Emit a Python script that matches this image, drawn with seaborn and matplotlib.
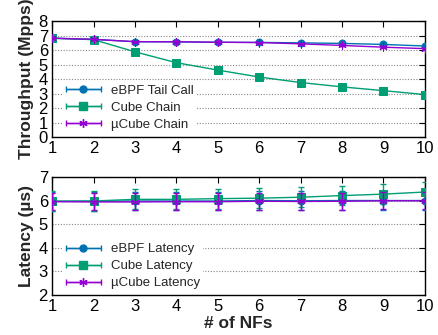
import numpy as np
import pandas as pd
import seaborn as sns
import matplotlib
matplotlib.use("Agg")
import matplotlib.pyplot as plt
from matplotlib.container import ErrorbarContainer
from matplotlib.legend_handler import HandlerErrorbar

nfs = [1, 2, 3, 4, 5, 6, 7, 8, 9, 10]
tp_ebpf = [6.82, 6.74, 6.58, 6.57, 6.54, 6.53, 6.50, 6.46, 6.39, 6.28]
tp_cube = [6.82, 6.72, 5.88, 5.13, 4.62, 4.14, 3.76, 3.46, 3.20, 2.93]
tp_ucube = [6.82, 6.74, 6.58, 6.57, 6.54, 6.52, 6.43, 6.32, 6.20, 6.10]
tp_err = [0.05, 0.05, 0.05, 0.05, 0.05, 0.05, 0.05, 0.05, 0.05, 0.05]

lat_ebpf = [5.97, 5.97, 5.98, 5.98, 5.98, 6.00, 5.99, 6.00, 6.00, 6.00]
lat_cube = [5.97, 5.98, 6.05, 6.05, 6.08, 6.10, 6.14, 6.21, 6.27, 6.36]
lat_ucube = [5.95, 5.94, 5.94, 5.95, 5.95, 5.97, 5.96, 5.97, 5.99, 5.99]
lat_err_ebpf = [0.40, 0.40, 0.40, 0.40, 0.40, 0.40, 0.40, 0.40, 0.40, 0.40]
lat_err_cube = [0.42, 0.42, 0.42, 0.42, 0.42, 0.42, 0.42, 0.42, 0.42, 0.42]
lat_err_ucube = [0.36, 0.36, 0.36, 0.36, 0.36, 0.36, 0.36, 0.36, 0.36, 0.36]

top_labels = ["eBPF Tail Call", "Cube Chain", "\u00b5Cube Chain"]
bot_labels = ["eBPF Latency", "Cube Latency", "\u00b5Cube Latency"]
colors = ["#0072b2", "#009e73", "#9400d3"]
markers = ["o", "s", (6, 2, 0)]
msizes = [5, 6, 6]

sns.set_theme(style="white")
plt.rcParams['font.family'] = ['Liberation Sans', 'DejaVu Sans']
plt.rcParams['xtick.direction'] = 'in'
plt.rcParams['ytick.direction'] = 'in'

fig = plt.figure(figsize=(4.38, 3.35), dpi=100)
ax1 = fig.add_axes([0.119, 0.591, 0.851, 0.346])
ax2 = fig.add_axes([0.119, 0.119, 0.851, 0.353])


def draw(ax, series, errs, labels, ylim, yticks, ylabel):
    handles = []
    for vals, err, lab, c, m, ms in zip(series, errs, labels, colors, markers, msizes):
        df = pd.DataFrame({"x": nfs, "y": vals})
        sns.lineplot(data=df, x="x", y="y", ax=ax, color=c, marker=m,
                     markersize=ms, markeredgecolor=c, linewidth=1.0,
                     zorder=3, legend=False)
        ax.errorbar(nfs, vals, yerr=err, fmt="none", ecolor=c, elinewidth=1.0,
                    capsize=2.5, capthick=1.0, zorder=3)
        h = ax.errorbar([np.nan], [np.nan], xerr=[1], color=c, marker=m,
                        markersize=ms, markeredgecolor=c, linewidth=1.0,
                        elinewidth=1.0, capsize=2.5, label=lab)
        handles.append(h)
    ax.set_xlim(1, 10)
    ax.set_ylim(*ylim)
    ax.set_yticks(yticks)
    ax.set_xticks(nfs)
    ax.tick_params(axis="both", which="both", top=True, right=True, length=4,
                   width=0.8, labelsize=12, pad=3, colors="black")
    ax.yaxis.grid(True, linestyle=(0, (1, 1.5)), color="#888888", linewidth=0.8)
    ax.set_axisbelow(True)
    for s in ax.spines.values():
        s.set_color("black")
        s.set_linewidth(1.0)
        s.set_visible(True)
    ax.set_ylabel(ylabel, fontsize=12.5, fontweight="bold", labelpad=3)
    ax.set_xlabel("")
    leg = ax.legend(handles=handles, loc="lower left", bbox_to_anchor=(0.02, 0.0),
                    fontsize=9.5, frameon=True, framealpha=1.0, edgecolor="none",
                    facecolor="white", handlelength=2.7, handletextpad=0.75,
                    labelspacing=0.36, borderpad=0.25, borderaxespad=0.2,
                    handler_map={ErrorbarContainer: HandlerErrorbar(xerr_size=1.35)})
    leg.get_frame().set_linewidth(0)
    leg.set_zorder(2.5)


draw(ax1, [tp_ebpf, tp_cube, tp_ucube], [tp_err, tp_err, tp_err], top_labels,
     (0, 8), [0, 1, 2, 3, 4, 5, 6, 7, 8], "Throughput (Mpps)")
draw(ax2, [lat_ebpf, lat_cube, lat_ucube], [lat_err_ebpf, lat_err_cube, lat_err_ucube],
     bot_labels, (2, 7), [2, 3, 4, 5, 6, 7], "Latency (\u00b5s)")
ax2.set_xlabel("# of NFs", fontsize=12.5, fontweight="bold", labelpad=1)

fig.savefig("out.png", dpi=100)
